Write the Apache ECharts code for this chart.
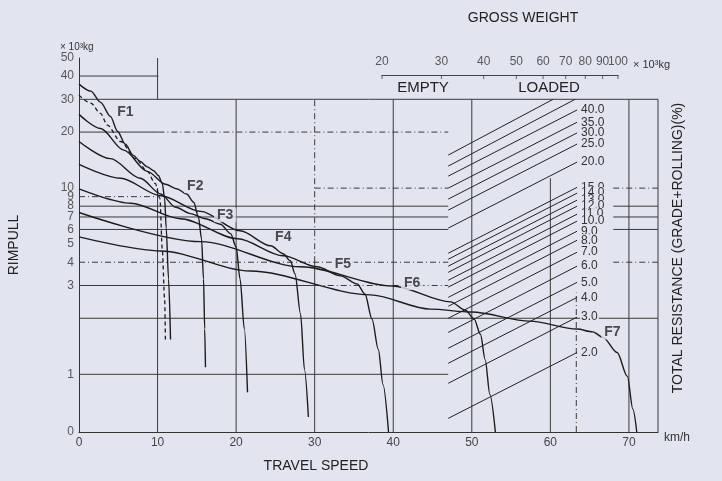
<!DOCTYPE html>
<html><head><meta charset="utf-8">
<script src="https://cdn.jsdelivr.net/npm/echarts@6/dist/echarts.min.js"></script>
<style>html,body{margin:0;padding:0;background:#e2e4f0;}#c{width:722px;height:481px;}</style>
</head><body><div id="c"></div>
<script>
// ---------- data (speed km/h, rimpull x10^3 kg) ----------
const gearNames = ['F1','F2','F3','F4','F5','F6','F7'];
const F1 = [[0,36.2],[1.5,33.2],[2.75,28.9],[4.0,24.3],[4.9,20.2],[5.9,17.2],[6.9,15.0],[7.8,13.9],[8.7,13.0],[9.5,12.4],[10.1,11.7],[10.6,10.6],[10.9,8.8],[11.1,6.1],[11.4,3.25],[11.65,1.54]];
const F1dashed = [[0,31.6],[1.5,28.6],[2.75,25.2],[3.6,21.8],[5.3,17.8],[7.2,14.4],[8.7,12.3],[9.7,10.6],[10.3,8.8],[10.6,4.7],[10.9,2.54],[11.0,1.54]];
const F2 = [[0,24.9],[2.75,20.9],[5.7,16.0],[8.7,12.3],[11.0,10.5],[12.5,9.9],[13.7,9.3],[14.6,8.4],[15.2,7.0],[15.6,5.35],[15.85,3.25],[16.0,1.75],[16.1,1.09]];
const F3 = [[0,17.8],[4.0,14.4],[7.8,11.3],[10.4,9.3],[12.3,7.9],[14.2,7.3],[16.1,6.85],[18.0,6.4],[19.3,5.7],[20.0,4.84],[20.5,3.25],[21.05,1.75],[21.45,0.80]];
const F4 = [[0,13.4],[5.3,11.3],[10.4,9.1],[15.5,7.5],[20.5,5.9],[24.4,4.9],[26.0,4.44],[26.9,4.07],[27.5,3.46],[28.2,2.11],[28.7,1.06],[29.2,0.59]];
const F5 = [[0,9.9],[6.6,8.3],[12.9,6.85],[20.2,5.35],[26.0,4.33],[30.3,3.78],[33.3,3.38],[35.4,3.06],[36.4,2.70],[37.3,1.98],[38.1,1.36],[38.7,0.88],[39.4,0.49]];
const F6 = [[0,7.4],[15.5,5.16],[28.2,3.78],[39.9,2.98],[47.3,2.45],[49.2,2.21],[50.3,1.98],[51.1,1.64],[51.7,1.20],[52.3,0.78],[53.0,0.49]];
const F7 = [[0,5.47],[10.4,4.6],[21.8,3.59],[37.1,2.67],[44.7,2.24],[50.0,2.16],[57.4,1.93],[63.4,1.75],[65.4,1.69],[66.7,1.58],[68.5,1.31],[69.8,0.975],[70.5,0.65],[71.0,0.49]];
const gearCurves = [F1,F2,F3,F4,F5,F6,F7];
const gearLabelAt = [[5.9,25.6],[14.8,10.25],[18.6,7.16],[26.0,5.45],[33.6,3.9],[42.4,3.09],[67.9,1.68]];

// rimpull axis ticks
const rimpullTicks = [0.49,1,3,4,5,6,7,8,9,10,20,30,40,50];
const rimpullTickLabels = ['0','1','3','4','5','6','7','8','9','10','20','30','40','50'];
// gross weight axis ticks (x10^3 kg)
const gvwTicks = [20,30,40,50,60,70,80,90,100];

// total resistance lines (rimpull at hatch start / end)
const resistLabels = ['','','40.0','35.0','30.0','25.0','20.0','15.0','14.0','13.0','12.0','11.0','10.0','9.0','8.0','7.0','6.0','5.0','4.0','3.0','2.0'];
const resistStartSpeed = 47.0;
const resistStart = [15.05,13.13,11.6,10.0,8.73,7.62,6.10,4.47,4.15,3.81,3.53,3.20,2.94,2.59,2.32,2.0,1.68,1.38,1.146,0.895,0.58];
const resistEndSpeed = [60.35,63.15,63.4,63.4,63.4,63.4,63.4,63.4,63.4,63.4,63.4,63.4,63.4,63.4,63.4,63.4,63.4,63.4,63.4,63.4,63.4];
const resistEnd = [30,30,26.3,22.6,19.8,17.25,13.8,10.1,9.40,8.62,8.0,7.25,6.65,5.87,5.25,4.53,3.81,3.12,2.59,2.03,1.31];

// reference lines: [rimpull, speedFrom, speedTo] and [speed, rimpullFrom, rimpullTo]
const gridHSolid = [[40,0,10.1],[30,0,73.7],[20,0,10.1],[8,0,47],[7,0,47],[6,0,47],[3,0,30],[2,0,73.7],[1,0,47],[8,68,73.7],[7,68,73.7],[6,68,73.7]];
const gridHDashed = [[20,10.1,47],[10,30,47],[9,0,10.1],[4,0,47],[3,30,47],[10,68,73.7],[4,68,73.7]];
const gridVSolid = [[10,30,50],[10,0.49,10],[20,0.49,30],[30,0.49,4],[40,0.49,30],[50,0.49,30],[60,0.49,11.3],[70,0.49,30],[73.7,0.49,30]];
const gridVDashed = [[30,4,30],[63.3,0.49,2.75]];

// ---------- chart ----------
const bg = '#e2e4f0';
const ink = '#1c1c1c';
const gridInk = '#3a3a3a';
const font = 'Liberation Sans, Arial, sans-serif';
const chart = echarts.init(document.getElementById('c'), null, {renderer:'canvas'});
const series = [];

function seg(pts, type){
  series.push({type:'line', xAxisIndex:0, yAxisIndex:0, data:pts, symbol:'none', silent:true, z:1,
    lineStyle:{color:gridInk, width:1, type:type}});
}
gridHSolid.forEach(g=>seg([[g[1],g[0]],[g[2],g[0]]],'solid'));
gridHDashed.forEach(g=>seg([[g[1],g[0]],[g[2],g[0]]],[6,3,1,3]));
gridVSolid.forEach(g=>seg([[g[0],g[1]],[g[0],g[2]]],'solid'));
gridVDashed.forEach(g=>seg([[g[0],g[1]],[g[0],g[2]]],[6,3,1,3]));

// resistance lines
resistStart.forEach((s,i)=>{
  const lbl = resistLabels[i];
  series.push({type:'line', xAxisIndex:0, yAxisIndex:0, data:[[resistStartSpeed, s],[resistEndSpeed[i], resistEnd[i]]],
    symbol:'none', silent:true, z:3,
    lineStyle:{color:'#222', width:1},
    endLabel:{show:!!lbl, formatter:lbl, distance:3, color:'#333', fontSize:12, fontFamily:font,
      backgroundColor:bg, padding:[0,1]}});
});

// gear curves
gearCurves.forEach((d,i)=>{
  series.push({type:'line', name:gearNames[i], xAxisIndex:0, yAxisIndex:0, data:d, symbol:'none', smooth:0.3, smoothMonotone:'x', z:4,
    lineStyle:{color:ink, width:1.4}});
});
series.push({type:'line', name:'F1 dashed', xAxisIndex:0, yAxisIndex:0, data:F1dashed, symbol:'none', smooth:0.3, smoothMonotone:'x', z:4,
  lineStyle:{color:ink, width:1.3, type:[4,3]}});

// gear labels
series.push({type:'scatter', xAxisIndex:0, yAxisIndex:0, symbolSize:0, z:6, silent:true,
  data: gearLabelAt.map((p,i)=>({value:p, name:gearNames[i]})),
  label:{show:true, position:'inside', formatter:'{b}', color:'#222', fontSize:14, fontWeight:'bold', fontFamily:font, backgroundColor:bg, padding:[0,3]}});

// rimpull tick labels
series.push({type:'scatter', xAxisIndex:0, yAxisIndex:0, symbolSize:0, z:6, silent:true,
  data: rimpullTicks.map((v,i)=>({value:[0,v], name:rimpullTickLabels[i]})),
  label:{show:true, position:'left', distance:5, formatter:'{b}', color:'#333', fontSize:12, fontFamily:font}});

// gross weight tick labels
series.push({type:'scatter', xAxisIndex:1, yAxisIndex:1, symbol:'rect', symbolSize:[1,4], symbolOffset:[0,2], z:6, silent:true,
  itemStyle:{color:'#444'},
  data: gvwTicks.map(v=>[v,1]),
  label:{show:true, position:'top', distance:7, formatter:p=>String(p.value[0]), color:'#333', fontSize:12, fontFamily:font}});

const txt = (x,y,t,size,extra)=>Object.assign({type:'text', x:x, y:y, silent:true, z:10,
  style:{text:t, fill:'#222', font:size+'px '+font, align:'center', verticalAlign:'middle'}}, extra||{});

chart.setOption({
  backgroundColor: bg,
  animation:false,
  grid:[
    {left:79, right:64, top:58, bottom:49, outerBoundsMode:'none'},
    {left:382, right:104, top:75, height:1, outerBoundsMode:'none'}
  ],
  xAxis:[
    {gridIndex:0, type:'value', min:0, max:73.7, interval:10,
     axisLine:{show:true, onZero:false, lineStyle:{color:'#333', width:1}},
     axisTick:{show:false}, splitLine:{show:false},
     axisLabel:{color:'#444', fontSize:12, fontFamily:font, margin:5, showMaxLabel:false}},
    {gridIndex:1, type:'log', min:20, max:100, position:'top',
     axisLine:{show:true, onZero:false, lineStyle:{color:'#444', width:1}},
     axisTick:{show:false}, axisLabel:{show:false}, splitLine:{show:false}}
  ],
  yAxis:[
    {gridIndex:0, type:'log', logBase:10, min:0.49, max:50,
     axisLine:{show:true, lineStyle:{color:'#333', width:1}},
     axisTick:{show:false}, axisLabel:{show:false}, splitLine:{show:false}},
    {gridIndex:1, type:'value', min:0, max:1, show:false}
  ],
  series: series,
  graphic:[
    txt(523,18,'GROSS WEIGHT',14),
    txt(423,88,'EMPTY',15),
    txt(549,88,'LOADED',15),
    txt(633,65,'× 10³kg',11,{style:{text:'× 10³kg', fill:'#333', font:'11px '+font, align:'left', verticalAlign:'middle'}}),
    txt(60,47,'× 10³kg',10,{style:{text:'× 10³kg', fill:'#333', font:'10px '+font, align:'left', verticalAlign:'middle'}}),
    txt(14,245,'RIMPULL',14,{rotation:Math.PI/2}),
    txt(316,466,'TRAVEL SPEED',14),
    txt(664,438,'km/h',12,{style:{text:'km/h', fill:'#333', font:'12px '+font, align:'left', verticalAlign:'middle'}}),
    txt(678,248,'TOTAL RESISTANCE (GRADE+ROLLING)(%)',14,{rotation:Math.PI/2})
  ]
});
</script></body></html>
